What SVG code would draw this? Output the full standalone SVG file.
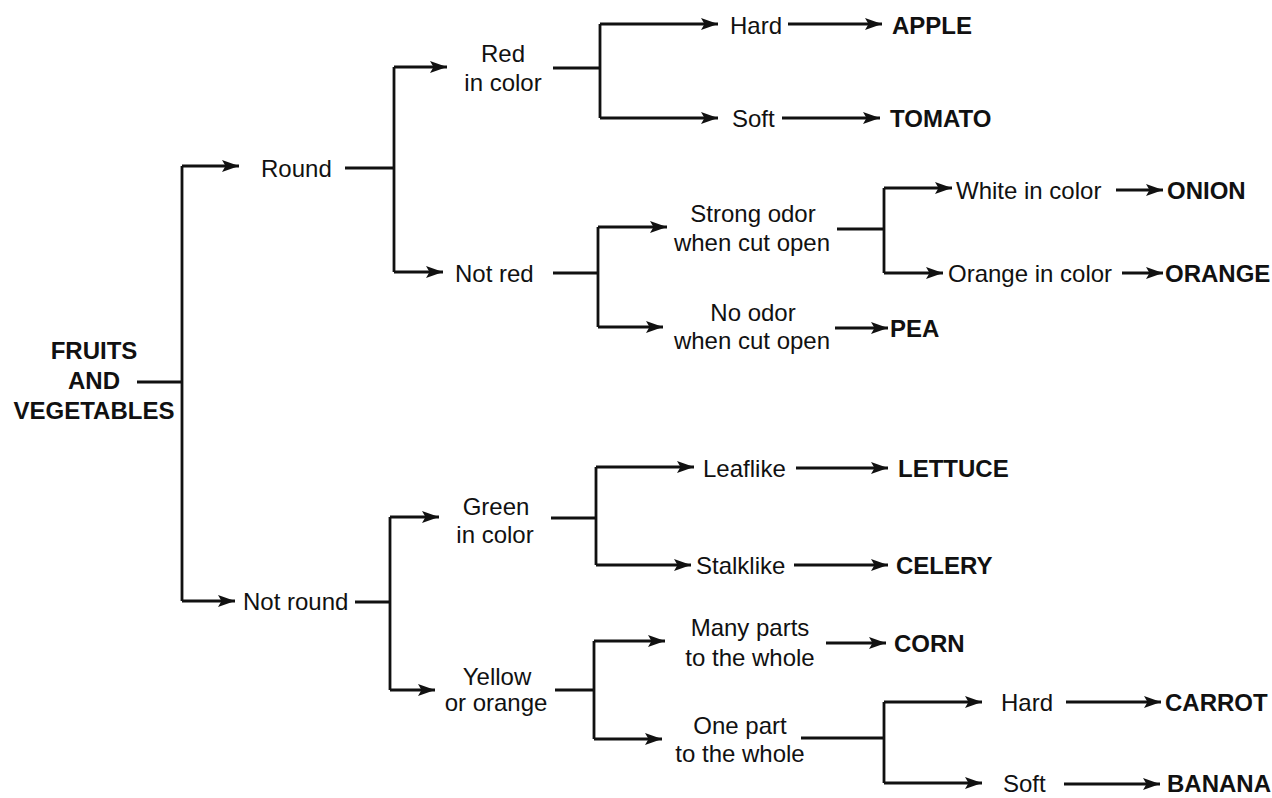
<svg xmlns="http://www.w3.org/2000/svg" width="1272" height="798" viewBox="0 0 1272 798">
<style>
.t{font-family:"Liberation Sans",Arial,sans-serif;font-size:24px;fill:#111}
.b{font-family:"Liberation Sans",Arial,sans-serif;font-size:24px;font-weight:bold;fill:#111}
.m{text-anchor:middle}
.c path{fill:none;stroke:#111;stroke-width:2.8}
.c .a{marker-end:url(#ah)}
</style>
<defs>
<marker id="ah" markerUnits="userSpaceOnUse" markerWidth="18" markerHeight="14" refX="17" refY="7" orient="auto">
<path d="M0,1 L17,7 L0,13 L3.5,7 z" fill="#111"/>
</marker>
</defs>
<rect width="1272" height="798" fill="#fff"/>
<g id="connectors" class="c">
<path d="M137,382 H182"/>
<path d="M182,166 V601"/>
<path class="a" d="M182,166 H239"/>
<path class="a" d="M182,601 H235"/>
<path d="M345,168 H394"/>
<path d="M394,67 V272"/>
<path class="a" d="M394,67 H447"/>
<path class="a" d="M394,272 H443"/>
<path d="M553,68 H600"/>
<path d="M600,24 V118"/>
<path class="a" d="M600,24 H718"/>
<path class="a" d="M600,118 H718"/>
<path class="a" d="M788,24 H882"/>
<path class="a" d="M782,118 H880"/>
<path d="M553,273 H598"/>
<path d="M598,227 V327"/>
<path class="a" d="M598,227 H667"/>
<path class="a" d="M598,327 H663"/>
<path d="M837,229 H884"/>
<path d="M884,188 V273"/>
<path class="a" d="M884,188 H952"/>
<path class="a" d="M884,273 H943"/>
<path class="a" d="M1116,190 H1163"/>
<path class="a" d="M1122,273 H1163"/>
<path class="a" d="M835,328 H888"/>
<path d="M355,602 H390"/>
<path d="M390,517 V690"/>
<path class="a" d="M390,517 H439"/>
<path class="a" d="M390,690 H435"/>
<path d="M551,518 H596"/>
<path d="M596,467 V565"/>
<path class="a" d="M596,467 H694"/>
<path class="a" d="M596,565 H691"/>
<path class="a" d="M796,468 H888"/>
<path class="a" d="M794,565 H888"/>
<path d="M555,690 H594"/>
<path d="M594,641 V739"/>
<path class="a" d="M594,641 H665"/>
<path class="a" d="M594,739 H662"/>
<path class="a" d="M826,643 H886"/>
<path d="M801,738 H884"/>
<path d="M884,702 V783"/>
<path class="a" d="M884,702 H982"/>
<path class="a" d="M884,783 H982"/>
<path class="a" d="M1066,702 H1161"/>
<path class="a" d="M1064,784 H1160"/>
</g>
<g id="root"><text class="b m" x="94" y="359">FRUITS</text><text class="b m" x="94" y="389">AND</text><text class="b m" x="94" y="419">VEGETABLES</text></g>
<g id="round"><text class="t" x="261" y="177">Round</text></g>
<g id="notround"><text class="t" x="243" y="610">Not round</text></g>
<g id="red"><text class="t m" x="503" y="62">Red</text><text class="t m" x="503" y="91">in color</text></g>
<g id="notred"><text class="t" x="455" y="282">Not red</text></g>
<g id="hard1"><text class="t" x="730" y="34">Hard</text></g>
<g id="apple"><text class="b" x="892" y="34">APPLE</text></g>
<g id="soft1"><text class="t" x="732" y="127">Soft</text></g>
<g id="tomato"><text class="b" x="890" y="127">TOMATO</text></g>
<g id="strong"><text class="t m" x="753" y="222">Strong odor</text><text class="t m" x="752" y="251">when cut open</text></g>
<g id="white"><text class="t" x="956" y="199">White in color</text></g>
<g id="onion"><text class="b" x="1167" y="199">ONION</text></g>
<g id="orangecolor"><text class="t" x="948" y="282">Orange in color</text></g>
<g id="orange"><text class="b" x="1165" y="282">ORANGE</text></g>
<g id="noodor"><text class="t m" x="753" y="321">No odor</text><text class="t m" x="752" y="349">when cut open</text></g>
<g id="pea"><text class="b" x="890" y="337">PEA</text></g>
<g id="green"><text class="t m" x="496" y="515">Green</text><text class="t m" x="495" y="543">in color</text></g>
<g id="yellow"><text class="t m" x="497" y="685">Yellow</text><text class="t m" x="496" y="711">or orange</text></g>
<g id="leaflike"><text class="t" x="703" y="477">Leaflike</text></g>
<g id="lettuce"><text class="b" x="898" y="477">LETTUCE</text></g>
<g id="stalklike"><text class="t" x="696" y="574">Stalklike</text></g>
<g id="celery"><text class="b" x="896" y="574">CELERY</text></g>
<g id="many"><text class="t m" x="750" y="636">Many parts</text><text class="t m" x="750" y="666">to the whole</text></g>
<g id="corn"><text class="b" x="894" y="652">CORN</text></g>
<g id="one"><text class="t m" x="740" y="734">One part</text><text class="t m" x="740" y="762">to the whole</text></g>
<g id="hard2"><text class="t" x="1001" y="711">Hard</text></g>
<g id="carrot"><text class="b" x="1165" y="711">CARROT</text></g>
<g id="soft2"><text class="t" x="1003" y="792">Soft</text></g>
<g id="banana"><text class="b" x="1167" y="792">BANANA</text></g>
</svg>
